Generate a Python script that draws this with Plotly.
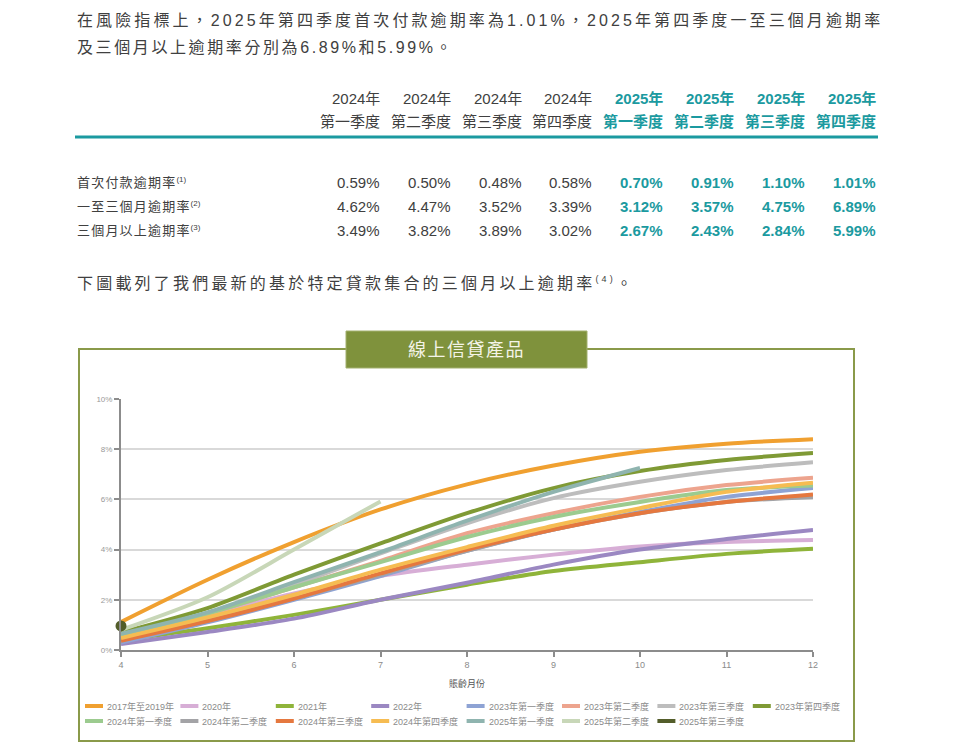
import plotly.graph_objects as go

# ---- 數據 ----
months = [4, 5, 6, 7, 8, 9, 10, 11, 12]

series_names = [
    "2017年至2019年", "2020年", "2021年", "2022年",
    "2023年第一季度", "2023年第二季度", "2023年第三季度", "2023年第四季度",
    "2024年第一季度", "2024年第二季度", "2024年第三季度", "2024年第四季度",
    "2025年第一季度", "2025年第二季度", "2025年第三季度",
]

s_2017_2019 = [1.12, 2.8, 4.3, 5.6, 6.6, 7.35, 7.9, 8.22, 8.4]
s_2020 = [0.6, 1.4, 2.25, 2.95, 3.4, 3.8, 4.12, 4.3, 4.38]
s_2021 = [0.4, 0.87, 1.4, 2.0, 2.6, 3.15, 3.5, 3.83, 4.03]
s_2022 = [0.24, 0.72, 1.25, 2.0, 2.68, 3.4, 4.0, 4.42, 4.78]
s_2023q1 = [0.3, 1.1, 2.0, 2.95, 3.95, 4.8, 5.5, 6.1, 6.45]
s_2023q2 = [0.65, 1.45, 2.5, 3.55, 4.65, 5.45, 6.1, 6.57, 6.86]
s_2023q3 = [0.65, 1.45, 2.6, 3.85, 5.05, 6.05, 6.7, 7.17, 7.48]
s_2023q4 = [0.7, 1.67, 3.0, 4.25, 5.45, 6.45, 7.13, 7.57, 7.85]
s_2024q1 = [0.6, 1.45, 2.5, 3.5, 4.5, 5.3, 5.9, 6.37, 6.55]
s_2024q2 = [0.4, 1.2, 2.05, 3.0, 3.95, 4.8, 5.45, 5.9, 6.1]
s_2024q3 = [0.37, 1.15, 2.05, 3.05, 4.0, 4.8, 5.45, 5.9, 6.2]
s_2024q4 = [0.48, 1.3, 2.2, 3.2, 4.1, 4.95, 5.65, 6.3, 6.66]
s_2025q1 = [0.65, 1.5, 2.7, 3.9, 5.15, 6.3, 7.25]
s_2025q2 = [0.8, 2.1, 4.0, 5.92]
s_2025q3 = [0.96]

series_values = [
    s_2017_2019, s_2020, s_2021, s_2022,
    s_2023q1, s_2023q2, s_2023q3, s_2023q4,
    s_2024q1, s_2024q2, s_2024q3, s_2024q4,
    s_2025q1, s_2025q2, s_2025q3,
]

colors = [
    "#F0A030", "#D7AED6", "#8FB43A", "#9B88C2",
    "#8EA3D4", "#EDA48E", "#BDBDBD", "#7F9A35",
    "#9CCB8F", "#A3A3A6", "#E5783F", "#F6BC52",
    "#8FB4AF", "#C8D7B8", "#535D2A",
]

# 表格
year_labels = ["2024年", "2024年", "2024年", "2024年", "2025年", "2025年", "2025年", "2025年"]
quarter_labels = ["第一季度", "第二季度", "第三季度", "第四季度"] * 2
row_labels = ["首次付款逾期率", "一至三個月逾期率", "三個月以上逾期率"]
row_notes = ["(1)", "(2)", "(3)"]
first_payment = [0.59, 0.50, 0.48, 0.58, 0.70, 0.91, 1.10, 1.01]
one_to_three = [4.62, 4.47, 3.52, 3.39, 3.12, 3.57, 4.75, 6.89]
over_three = [3.49, 3.82, 3.89, 3.02, 2.67, 2.43, 2.84, 5.99]
table_rows = [first_payment, one_to_three, over_three]

# ---- 版面 ----
# 坐標按參考圖的像素寫；頁面 body 有 8px 邊距，所以圖本身縮小 8px
OFF = 8
W, H = 955 - OFF, 756 - OFF
L, R, T, B = 121, 813, 399, 650
FONT = "Liberation Sans, Noto Sans CJK TC, sans-serif"
TEXT = "#404040"
TEAL = "#1B9AA0"
OLIVE = "#7F923C"


def px(x):
    return (x - L) / (R - L)


def py(y):
    return (B - y) / (B - T)


def spaced(s, sp):
    return f'<span style="letter-spacing:{sp}px">{s}</span>'


def sup(t, size):
    return f'<sup><span style="font-size:{size}px">{t}</span></sup>'


fig = go.Figure()

for name, vals, col in zip(series_names, series_values, colors):
    if len(vals) > 1:
        fig.add_trace(go.Scatter(
            x=months[:len(vals)], y=vals, name=name, mode="lines",
            line=dict(color=col, width=4, shape="spline", smoothing=0.8),
        ))
    else:
        # 只有一個點
        fig.add_trace(go.Scatter(
            x=months[:1], y=vals, name=name, mode="markers",
            marker=dict(color=col, size=11), cliponaxis=False,
        ))

annotations = []


def note(text, x, y, size, color=TEXT, xanchor="left", yanchor="middle"):
    annotations.append(dict(
        text=text, x=px(x), y=py(y), xref="paper", yref="paper",
        xanchor=xanchor, yanchor=yanchor, showarrow=False,
        font=dict(family=FONT, size=size, color=color),
    ))


# 段落
note(spaced("在風險指標上，2025年第四季度首次付款逾期率為1.01%，2025年第四季度一至三個月逾期率", 3.1), 75, 20, 16)
note(spaced("及三個月以上逾期率分別為6.89%和5.99%。", 2.6), 75, 47, 16)
note(spaced("下圖載列了我們最新的基於特定貸款集合的三個月以上逾期率" + sup("(4)", 9) + "。", 3.2), 75, 283, 16)

# 表格
col_right = [382 + i * 70.8 for i in range(8)]
for i, xr in enumerate(col_right):
    is_new = i >= 4
    c = TEAL if is_new else TEXT
    yl = f"<b>{year_labels[i]}</b>" if is_new else year_labels[i]
    ql = f"<b>{quarter_labels[i]}</b>" if is_new else quarter_labels[i]
    note(yl, xr, 98, 15, c, xanchor="right")
    note(ql, xr, 121, 15, c, xanchor="right")

row_y = [182, 206, 231]
for label, mark, vals, yy in zip(row_labels, row_notes, table_rows, row_y):
    note(spaced(label, 1.2) + sup(mark, 8), 75, yy, 13)
    for i, v in enumerate(vals):
        t = f"{v:.2f}%"
        if i >= 4:
            note(f"<b>{t}</b>", col_right[i], yy, 15, TEAL, xanchor="right")
        else:
            note(t, col_right[i], yy, 15, TEXT, xanchor="right")

# 圖表標題與坐標軸標題
note(spaced("線上信貸產品", 1.5), 466, 350, 18, "#F4F4E8", xanchor="center")
note("賬齡月份", 467, 683, 9, "#555555", xanchor="center")

shapes = [
    dict(type="line", xref="paper", yref="paper", x0=px(75), x1=px(878), y0=py(137), y1=py(137),
         line=dict(color=TEAL, width=3)),
    dict(type="rect", xref="paper", yref="paper", x0=px(79), x1=px(854), y0=py(741), y1=py(349),
         line=dict(color="#8A9A4A", width=2), fillcolor="rgba(0,0,0,0)"),
    dict(type="rect", xref="paper", yref="paper", x0=px(346), x1=px(587), y0=py(368), y1=py(331),
         line=dict(color="#A3B06E", width=1), fillcolor=OLIVE),
]

# 圖例：兩行，每行 8 個，樣條短線 + 文字
for i, (name, col) in enumerate(zip(series_names, colors)):
    lx = 83 + (i % 8) * 95.4
    ly = 706 + (i // 8) * 15
    shapes.append(dict(
        type="line", xref="paper", yref="paper",
        x0=px(lx + 2), x1=px(lx + 20), y0=py(ly), y1=py(ly),
        line=dict(color=col, width=4),
    ))
    note(name, lx + 22, ly, 9, "#8A8A8A")

fig.update_layout(
    width=W, height=H,
    margin=dict(l=L - OFF, r=W - (R - OFF), t=T - OFF, b=H - (B - OFF), autoexpand=False),
    paper_bgcolor="white", plot_bgcolor="white",
    font=dict(family=FONT, color=TEXT),
    showlegend=False,
    annotations=annotations,
    shapes=shapes,
    xaxis=dict(
        range=[4, 12], tickmode="linear", tick0=4, dtick=1,
        showgrid=False, zeroline=False,
        showline=True, linecolor="#8C8C8C", linewidth=2,
        ticks="outside", ticklen=5, tickcolor="#8C8C8C", tickwidth=1.5,
        tickfont=dict(size=9, color="#8A8A8A"),
    ),
    yaxis=dict(
        range=[0, 10], tickmode="linear", tick0=0, dtick=2, ticksuffix="%",
        showgrid=True, gridcolor="#D9D9D9", gridwidth=1.5, zeroline=False,
        showline=True, linecolor="#8C8C8C", linewidth=2,
        ticks="outside", ticklen=5, tickcolor="#8C8C8C", tickwidth=1.5,
        tickfont=dict(size=8, color="#999999"),
    ),
)

fig.write_html("out.html")
